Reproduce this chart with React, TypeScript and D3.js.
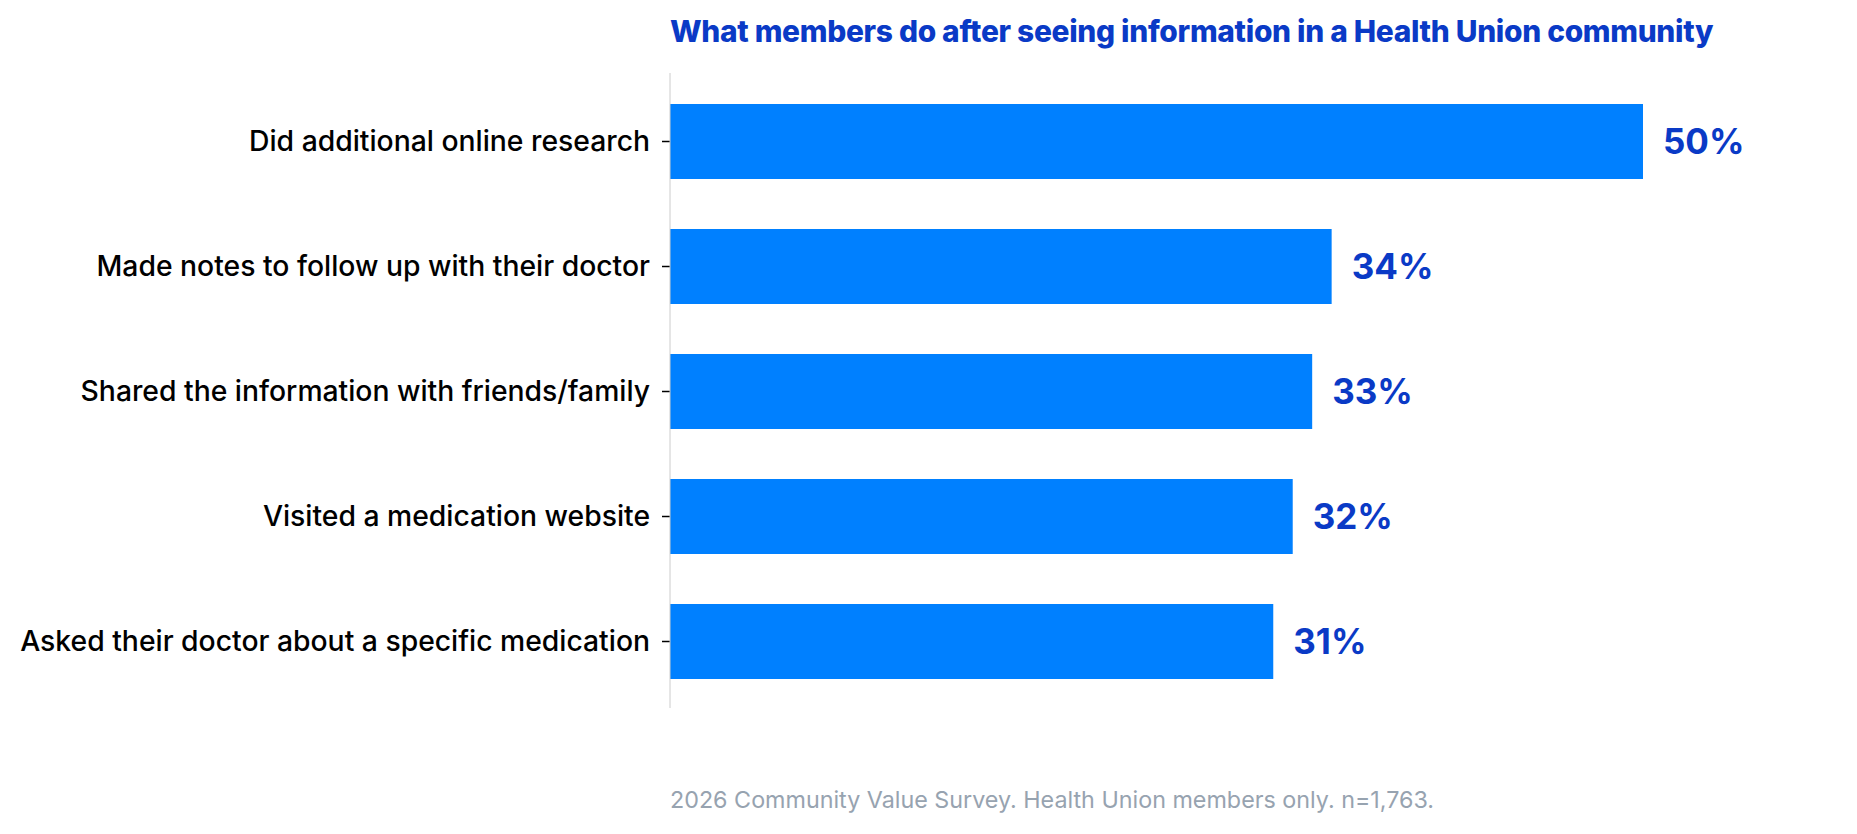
import React, { useEffect, useRef } from 'react';
import * as d3 from 'd3';

const categories = [
  'Did additional online research',
  'Made notes to follow up with their doctor',
  'Shared the information with friends/family',
  'Visited a medication website',
  'Asked their doctor about a specific medication',
];
const values = [50, 34, 33, 32, 31];

const titleText = 'What members do after seeing information in a Health Union community';
const footnote = '2026 Community Value Survey. Health Union members only. n=1,763.';

const W = 1857;
const H = 834;
const FONT = 'Inter, "Noto Sans", sans-serif';

const App: React.FC = () => {
  const svgRef = useRef<SVGSVGElement>(null);

  useEffect(() => {
    if (!svgRef.current) return;
    const svg = d3.select(svgRef.current);
    svg.selectAll('*').remove();

    const left = 670;

    const x = d3.scaleLinear().domain([0, 50]).range([left, 1643]);
    const y = d3.scaleBand<string>()
      .domain(categories)
      .range([79, 704])
      .paddingInner(0.4)
      .paddingOuter(0.2);

    // Title
    svg.append('text')
      .attr('x', left)
      .attr('y', 42)
      .style('font-family', FONT)
      .style('font-size', '29.9px')
      .style('font-weight', 800)
      .attr('fill', '#0a3ac6')
      .attr('letter-spacing', '-0.3')
      .text(titleText);

    // Bars
    svg.append('g')
      .selectAll('rect')
      .data(categories)
      .enter().append('rect')
      .attr('x', x(0))
      .attr('y', d => y(d)!)
      .attr('width', (d, i) => x(values[i]) - x(0))
      .attr('height', y.bandwidth())
      .attr('fill', '#0080ff');

    // Value labels
    svg.append('g')
      .selectAll('text')
      .data(categories)
      .enter().append('text')
      .attr('x', (d, i) => x(values[i]) + 20)
      .attr('y', d => y(d)! + y.bandwidth() / 2)
      .attr('dy', '0.36em')
      .style('font-family', FONT)
      .style('font-size', '35px')
      .style('font-weight', 700)
      .attr('fill', '#0a3ac6')
      .text((d, i) => `${values[i]}%`);

    // Y axis
    const axis = svg.append('g')
      .attr('transform', `translate(${left},0)`)
      .call(d3.axisLeft(y).tickSize(8).tickPadding(12));
    axis.select('.domain').remove();
    axis.selectAll('.tick line').attr('stroke', '#000').attr('stroke-width', 1.5);
    axis.selectAll('.tick text')
      .style('font-family', FONT)
      .style('font-size', '28.3px')
      .style('font-weight', 500)
      .attr('fill', '#000');

    svg.append('line')
      .attr('x1', left).attr('x2', left)
      .attr('y1', 73).attr('y2', 708)
      .attr('stroke', '#cccccc')
      .attr('stroke-width', 1);

    // Footnote
    svg.append('text')
      .attr('x', left)
      .attr('y', 808)
      .style('font-family', FONT)
      .style('font-size', '23.3px')
      .attr('fill', '#97a3b0')
      .text(footnote);
  }, []);

  return (
    <svg
      ref={svgRef}
      width={W}
      height={H}
      style={{ position: 'absolute', left: 0, top: 0, background: '#fff' }}
    />
  );
};

export default App;
